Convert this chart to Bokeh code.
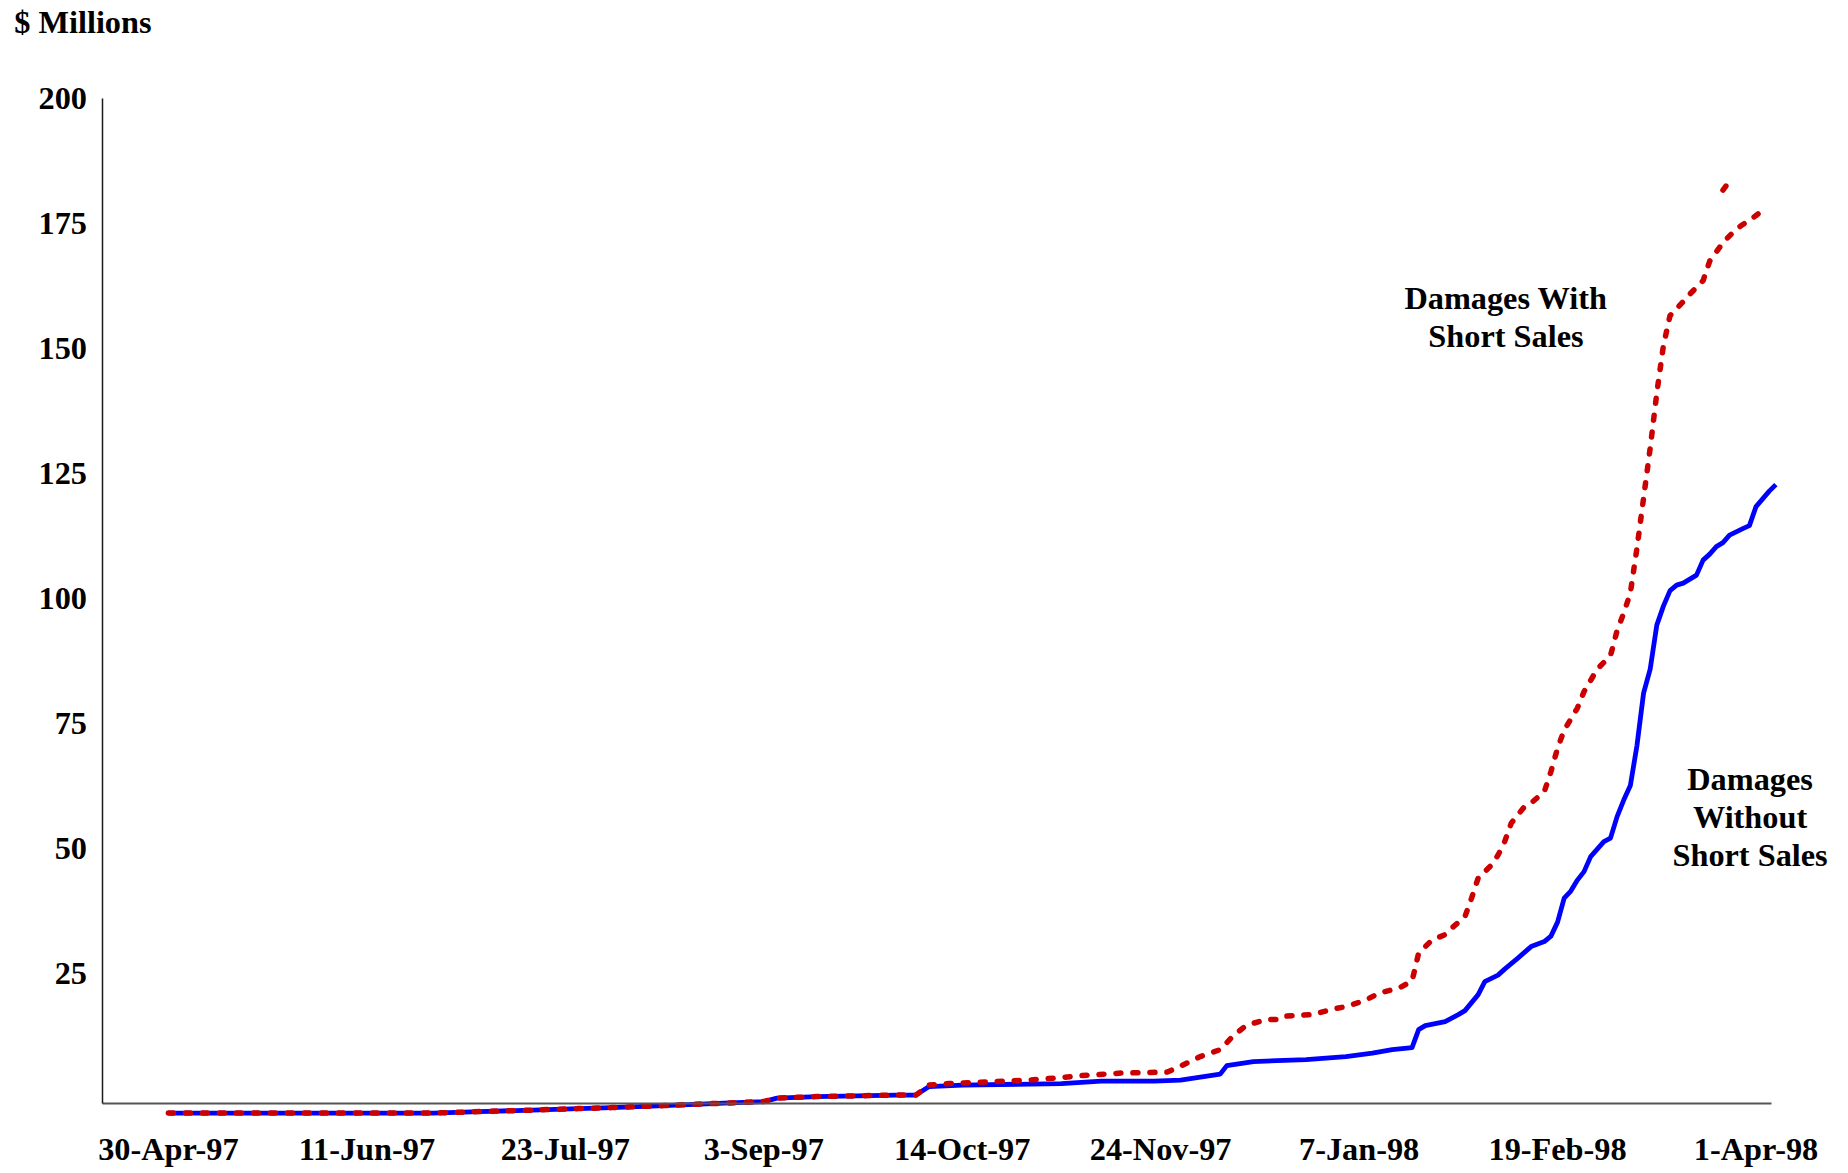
from bokeh.plotting import figure
from bokeh.models import Range1d, FixedTicker, Label
from bokeh.embed import file_html
from bokeh.resources import INLINE

# ---- data (trading-day index from 30-Apr-97, $ millions) ----
tick_days = [0, 30, 60, 90, 120, 150, 180, 210, 240]
tick_labels = ["30-Apr-97", "11-Jun-97", "23-Jul-97", "3-Sep-97", "14-Oct-97",
               "24-Nov-97", "7-Jan-98", "19-Feb-98", "1-Apr-98"]
y_ticks = [25, 50, 75, 100, 125, 150, 175, 200]

blue_days = [0, 40, 47, 55, 62, 67, 75, 84, 90, 92, 98, 110, 113, 115, 120, 135, 141, 149,
             153, 159, 160, 164, 172, 178, 182, 185, 188, 189, 190, 193, 194, 195, 196, 198,
             199, 201, 202, 204, 206, 208, 209, 210, 211, 212, 213, 214, 215, 217, 218, 219,
             220, 221, 222, 223, 224, 225, 226, 227, 228, 229, 231, 232, 233, 234, 235, 236,
             238, 239, 240, 242, 243]
blue_values = [-3.0, -3.0, -2.7, -2.4, -2.1, -1.9, -1.5, -1.0, -0.7, 0.0, 0.3, 0.6, 0.6, 2.3,
               2.6, 2.9, 3.4, 3.4, 3.6, 4.8, 6.5, 7.3, 7.7, 8.3, 9.0, 9.7, 10.1, 13.7, 14.5,
               15.3, 16.0, 16.7, 17.5, 20.7, 23.3, 24.6, 25.8, 28.0, 30.3, 31.3, 32.4, 35.2,
               40.0, 41.4, 43.6, 45.3, 48.3, 51.3, 52.0, 56.3, 59.6, 62.5, 70.5, 81.0, 85.8,
               94.6, 98.4, 101.5, 102.6, 103.0, 104.6, 107.6, 108.8, 110.3, 111.1, 112.6,
               113.9, 114.5, 118.3, 121.4, 122.7]

NaN = float("nan")
red_days = [0, 40, 47, 55, 62, 67, 75, 84, 90, 92, 98, 110, 113, 115, 118, 125, 130, 135, 138,
            144, 151, 153, 156, 159, 161, 163, 166, 168, 169, 173, 176, 178, 181, 183, 186, 188,
            189, 191, 193, 194, 196, 197, 198, 200, 201, 202, 203, 205, 206, 208, 209, 210,
            211, 213, 214, 216, 218, 219, 220, 221, 222, 223, 224, 225, 226, 227, 229, 230,
            232, 233, 235, 237, 238, 240, 241, 241, 235, 236]
red_values = [-3.0, -3.0, -2.7, -2.4, -2.1, -1.9, -1.5, -1.0, -0.7, 0.0, 0.3, 0.6, 0.6, 2.6,
              2.9, 3.3, 3.6, 4.1, 4.5, 5.0, 5.2, 6.4, 8.3, 9.7, 12.5, 14.6, 15.7, 15.7, 16.4,
              16.7, 17.8, 18.3, 19.6, 21.0, 22.0, 23.4, 29.0, 31.6, 32.7, 34.0, 36.3, 40.0,
              44.0, 46.6, 48.6, 51.3, 55.0, 58.3, 59.0, 61.3, 65.3, 70.0, 73.6, 78.0, 81.3,
              85.8, 88.5, 93.5, 97.0, 101.0, 110.0, 120.0, 130.0, 141.0, 150.5, 156.5, 159.3,
              160.8, 163.5, 167.4, 171.1, 173.8, 174.7, 176.5, 177.6, NaN, 181.6, 183.4]

# axis geometry (data units)
X_AXIS_AT = -1.0          # value where the horizontal axis crosses
Y_AXIS_AT = -9.89         # day where the vertical axis sits
X_AXIS_END = 242.35
Y_AXIS_TOP = 200

FONT = "Liberation Serif"
FS = "32.3px"

p = figure(width=1840, height=1171, output_backend="svg", toolbar_location=None,
           x_range=Range1d(-25.38, 252.77), y_range=Range1d(-14.68, 219.52),
           min_border_left=0, min_border_right=0, min_border_top=0, min_border_bottom=0)
p.outline_line_color = None
p.xgrid.grid_line_color = None
p.ygrid.grid_line_color = None
p.background_fill_color = "white"
p.border_fill_color = "white"

p.line(blue_days, blue_values, line_color="#0000FF", line_width=4.8, line_join="round")
p.line(red_days, red_values, line_color="#CC0000", line_width=5.5, line_dash="5 12",
       line_cap="round", line_join="round")

p.xaxis.ticker = FixedTicker(ticks=tick_days)
p.xaxis.major_label_overrides = {d: t for d, t in zip(tick_days, tick_labels)}
p.yaxis.ticker = FixedTicker(ticks=y_ticks)

p.xaxis.fixed_location = X_AXIS_AT
p.yaxis.fixed_location = Y_AXIS_AT
p.xaxis.bounds = (Y_AXIS_AT, X_AXIS_END)
p.yaxis.bounds = (X_AXIS_AT, Y_AXIS_TOP)

for ax in (p.xaxis, p.yaxis):
    ax.major_tick_line_color = None
    ax.minor_tick_line_color = None
    ax.major_tick_out = 0
    ax.major_tick_in = 0
    ax.minor_tick_out = 0
    ax.major_label_text_font = FONT
    ax.major_label_text_font_style = "bold"
    ax.major_label_text_font_size = FS
    ax.major_label_text_color = "black"

p.xaxis.axis_line_color = "#555555"
p.xaxis.axis_line_width = 2
p.xaxis.major_label_standoff = 28
p.yaxis.axis_line_color = "#1a1a1a"
p.yaxis.axis_line_width = 1.5
p.yaxis.major_label_standoff = 16

def add_label(x, y, text, align="center"):
    p.add_layout(Label(x=x, y=y, text=text, text_align=align, text_baseline="middle",
                       text_font=FONT, text_font_style="bold", text_font_size=FS,
                       text_color="black", text_line_height=1.066))

add_label(-23.3, 215.3, "$ Millions", align="left")
add_label(202.2, 156.2, "Damages With\nShort Sales")
add_label(239.1, 56.2, "Damages\nWithout\nShort Sales")

open("out.html", "w").write(file_html(p, INLINE))
